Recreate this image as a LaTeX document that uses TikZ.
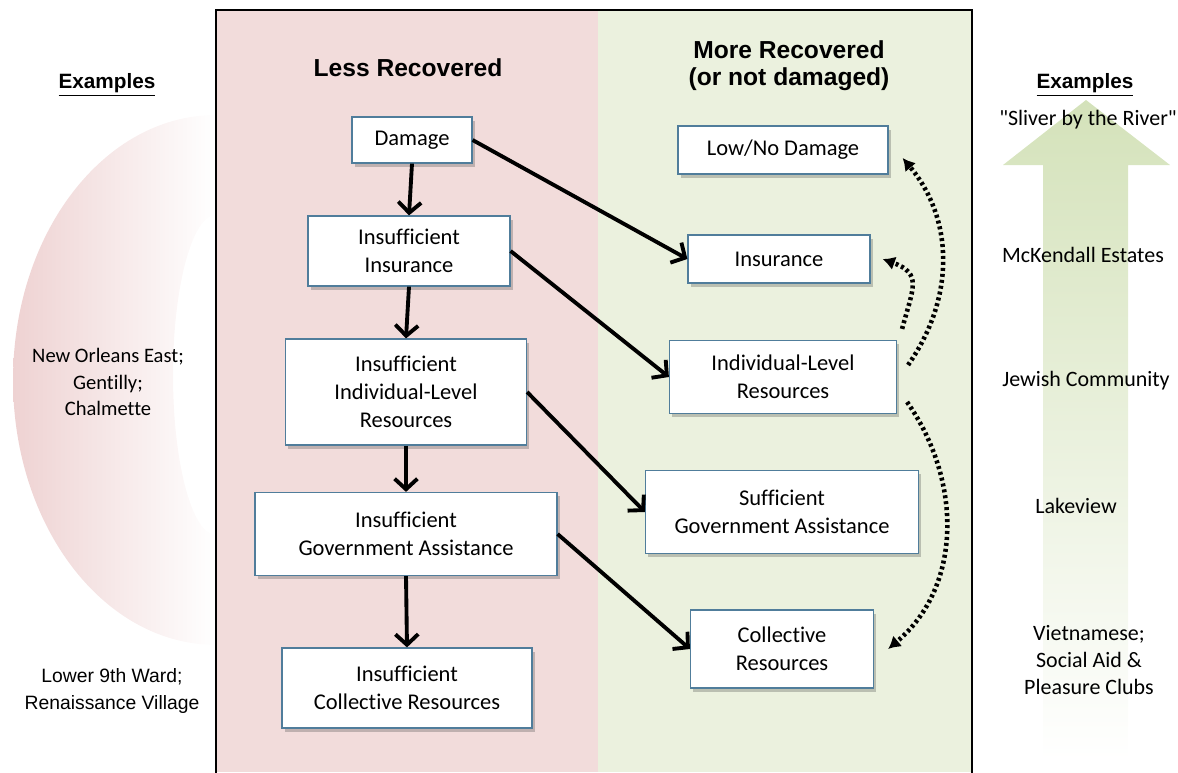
\documentclass[tikz,border=0pt]{standalone}
\usepackage{fontspec}
\setmainfont{Carlito}[Ligatures=CommonOff]
\newfontfamily\arialfont{Liberation Sans}
\usetikzlibrary{arrows.meta, shadows}
\definecolor{lessPink}{RGB}{242, 220, 219}
\definecolor{moreGreen}{RGB}{235, 241, 222}
\definecolor{boxEdge}{RGB}{80, 125, 155}
\definecolor{fadePink}{RGB}{238, 210, 210}
\definecolor{fadeGreen}{RGB}{212, 226, 186}

\begin{document}
\begin{tikzpicture}[x=0.02cm, y=-0.02cm,
    stage/.style={draw=boxEdge, fill=white, line width=0.7pt, align=center, inner sep=0pt,
      font=\fontsize{12.8}{16}\selectfont,
      drop shadow={shadow xshift=1.5pt, shadow yshift=-2pt, opacity=0.3, fill=black!70}},
    flow/.style={line width=2.2pt, -{Straight Barb[length=6pt,width=13pt]}},
    dotflow/.style={line width=2.6pt, dash pattern=on 1.7pt off 1.7pt, -{Latex[length=7pt,width=8pt]}},
    header/.style={font=\arialfont\bfseries\fontsize{14}{15.5}\selectfont, align=center},
    exhead/.style={font=\arialfont\bfseries\fontsize{11.8}{14}\selectfont},
    example/.style={font=\fontsize{12.5}{15.6}\selectfont, align=center}]
  \useasboundingbox (0,0) rectangle (1178,772);

  % Left fading half disc
  \shade[left color=fadePink, right color=white, even odd rule]
    (216,115) arc[start angle=90, end angle=270, x radius=4.06cm, y radius=5.3cm] -- cycle
    (216,215) arc[start angle=90, end angle=270, x radius=0.86cm, y radius=3.2cm] -- cycle;

  % Right fading arrow
  \shade[top color=fadeGreen, bottom color=white]
    (1043,760) -- (1043,165) -- (1003,165) -- (1086,100) -- (1170,165)
    -- (1128,165) -- (1128,760) -- cycle;

  % Panels and frame
  \fill[lessPink] (216,10) rectangle (598,772);
  \fill[moreGreen] (598,10) rectangle (972,772);
  \draw[line width=1.4pt] (216,780) -- (216,10) -- (972,10) -- (972,780);

  % Headers
  \node[header] (lessHead) at (408,68) {Less Recovered};
  \node[header] (moreHead) at (789,66) {More Recovered\\(or not damaged)};
  \node[exhead] (exLeft) at (107,85) {\underline{Examples}};
  \node[exhead] (exRight) at (1085,85) {\underline{Examples}};

  % Less recovered column
  \node[stage, minimum width=2.4cm, minimum height=0.92cm] (dmg) at (412,140) {Damage};
  \node[stage, minimum width=4.04cm, minimum height=1.4cm] (insIns) at (409,251) {Insufficient\\Insurance};
  \node[stage, minimum width=4.82cm, minimum height=2.12cm] (insInd) at (406,392) {Insufficient\\Individual-Level\\Resources};
  \node[stage, minimum width=6.04cm, minimum height=1.66cm] (insGov) at (406,534) {Insufficient\\Government Assistance};
  \node[stage, minimum width=5.0cm, minimum height=1.6cm] (insCol) at (407,688) {Insufficient\\Collective Resources};

  % More recovered column
  \node[stage, minimum width=4.2cm, minimum height=0.96cm] (lowDmg) at (783,150) {Low/No Damage};
  \node[stage, minimum width=3.64cm, minimum height=0.96cm] (ins) at (779,259) {Insurance};
  \node[stage, minimum width=4.54cm, minimum height=1.46cm] (ind) at (783,377) {Individual-Level\\Resources};
  \node[stage, minimum width=5.46cm, minimum height=1.66cm] (gov) at (782,512) {Sufficient\\Government Assistance};
  \node[stage, minimum width=3.66cm, minimum height=1.56cm] (col) at (782,649) {Collective\\Resources};

  % Arrows down the left column
  \draw[flow] (dmg.south) -- (insIns.north);
  \draw[flow] (insIns.south) -- (insInd.north);
  \draw[flow] (insInd.south) -- (insGov.north);
  \draw[flow] (insGov.south) -- (insCol.north);

  % Arrows across
  \draw[flow] (dmg.east) -- (ins.west);
  \draw[flow] (insIns.east) -- (ind.west);
  \draw[flow] (insInd.east) -- (gov.west);
  \draw[flow] (insGov.east) -- (col.west);

  % Dotted links on the right
  \draw[dotflow] ([xshift=0.22cm, yshift=0.24cm]ind.east) to[out=55, in=-50] ([xshift=0.28cm, yshift=-0.16cm]lowDmg.east);
  \draw[dotflow] ([xshift=0.1cm, yshift=0.22cm]ind.north east) to[out=75, in=-20, looseness=1.5] ([xshift=0.24cm]ins.east);
  \draw[dotflow] ([xshift=0.2cm, yshift=-0.5cm]ind.east) to[out=-55, in=40] ([xshift=0.28cm]col.east);

  % Examples
  \node[example, font=\fontsize{11.7}{15}\selectfont] (noeEx) at (108,382) {New Orleans East;\\Gentilly;\\Chalmette};
  \node[example, font=\arialfont\fontsize{11}{15.9}\selectfont] (l9Ex) at (112,691) {Lower 9th Ward;\\Renaissance Village};
  \node[example] (sliverEx) at (1088,120) {\textquotedbl Sliver by the River\textquotedbl};
  \node[example] (mckEx) at (1083,255) {McKendall Estates};
  \node[example] (jewEx) at (1086,381) {Jewish Community};
  \node[example] (lakeEx) at (1076,506) {Lakeview};
  \node[example] (vietEx) at (1089,660) {Vietnamese;\\Social Aid \&\\Pleasure Clubs};
\end{tikzpicture}
\end{document}
